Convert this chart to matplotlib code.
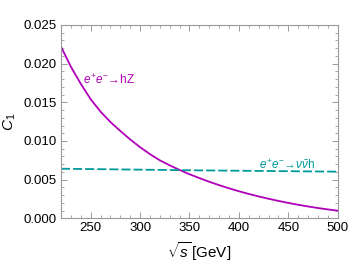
import matplotlib
matplotlib.use("Agg")
import matplotlib.pyplot as plt
from matplotlib.ticker import MultipleLocator, FuncFormatter

plt.rcParams['font.family'] = ['Liberation Sans', 'DejaVu Sans']
plt.rcParams['mathtext.fontset'] = 'custom'
plt.rcParams['mathtext.rm'] = 'Liberation Sans'
plt.rcParams['mathtext.it'] = 'Liberation Sans:italic'
plt.rcParams['mathtext.bf'] = 'Liberation Sans:bold'

sqrt_s_hz = [220, 230, 240, 250, 260, 270, 280, 290, 300, 310, 320, 330, 340, 350,
             360, 370, 380, 390, 400, 410, 420, 430, 440, 450, 460, 470, 480, 490, 500]
c1_hz = [0.0222, 0.0196, 0.0174, 0.0154, 0.0138, 0.01245, 0.0113, 0.0102, 0.0092,
         0.0083, 0.0075, 0.00685, 0.00625, 0.0057, 0.0052, 0.00473, 0.00429, 0.00388,
         0.0035, 0.00315, 0.00283, 0.00253, 0.00225, 0.00199, 0.00175, 0.00153,
         0.00133, 0.00115, 0.00099]
sqrt_s_vvh = [220, 360, 500]
c1_vvh = [0.00641, 0.00620, 0.00603]

magenta = '#b000b8'
teal = '#009a9a'
frame = '#9a9a9a'

fig = plt.figure(figsize=(3.49, 2.64), dpi=100)
ax = fig.add_axes([61/349, 1-218.3/264, 276.7/349, 193.3/264])
ax.plot(sqrt_s_hz, c1_hz, color=magenta, lw=1.3)
ax.plot(sqrt_s_vvh, c1_vvh, color=teal, lw=1.3, dashes=(5, 1.7))
ax.set_xlim(220, 500)
ax.set_ylim(0, 0.025)
ax.xaxis.set_major_locator(MultipleLocator(50))
ax.xaxis.set_minor_locator(MultipleLocator(10))
ax.yaxis.set_major_locator(MultipleLocator(0.005))
ax.yaxis.set_minor_locator(MultipleLocator(0.001))
ax.yaxis.set_major_formatter(FuncFormatter(lambda v, p: f"{v:.3f}"))
for s in ax.spines.values():
    s.set_color(frame)
    s.set_linewidth(0.8)
ax.tick_params(which='both', direction='in', top=True, right=True, color=frame,
               labelsize=9.5, labelcolor='black')
ax.tick_params(which='major', length=4, width=0.7, pad=3)
ax.tick_params(which='minor', length=2, width=0.6)

ax.text(242.3, 0.0179, r'$e^{+}e^{-}\!\rightarrow\!\mathrm{hZ}$', color=magenta,
        fontsize=8.5, va='center', ha='left')
ax.text(420.4, 0.0069, r'$e^{+}e^{-}\!\rightarrow\!\nu\bar{\nu}\mathrm{h}$', color=teal,
        fontsize=8.5, va='center', ha='left')

ax.set_xlabel(r'$\sqrt{s}\,$[GeV]', fontsize=11, labelpad=4)
ax.set_ylabel(r'$C_1$', fontsize=11, labelpad=4)

fig.savefig('out.png', dpi=100)
